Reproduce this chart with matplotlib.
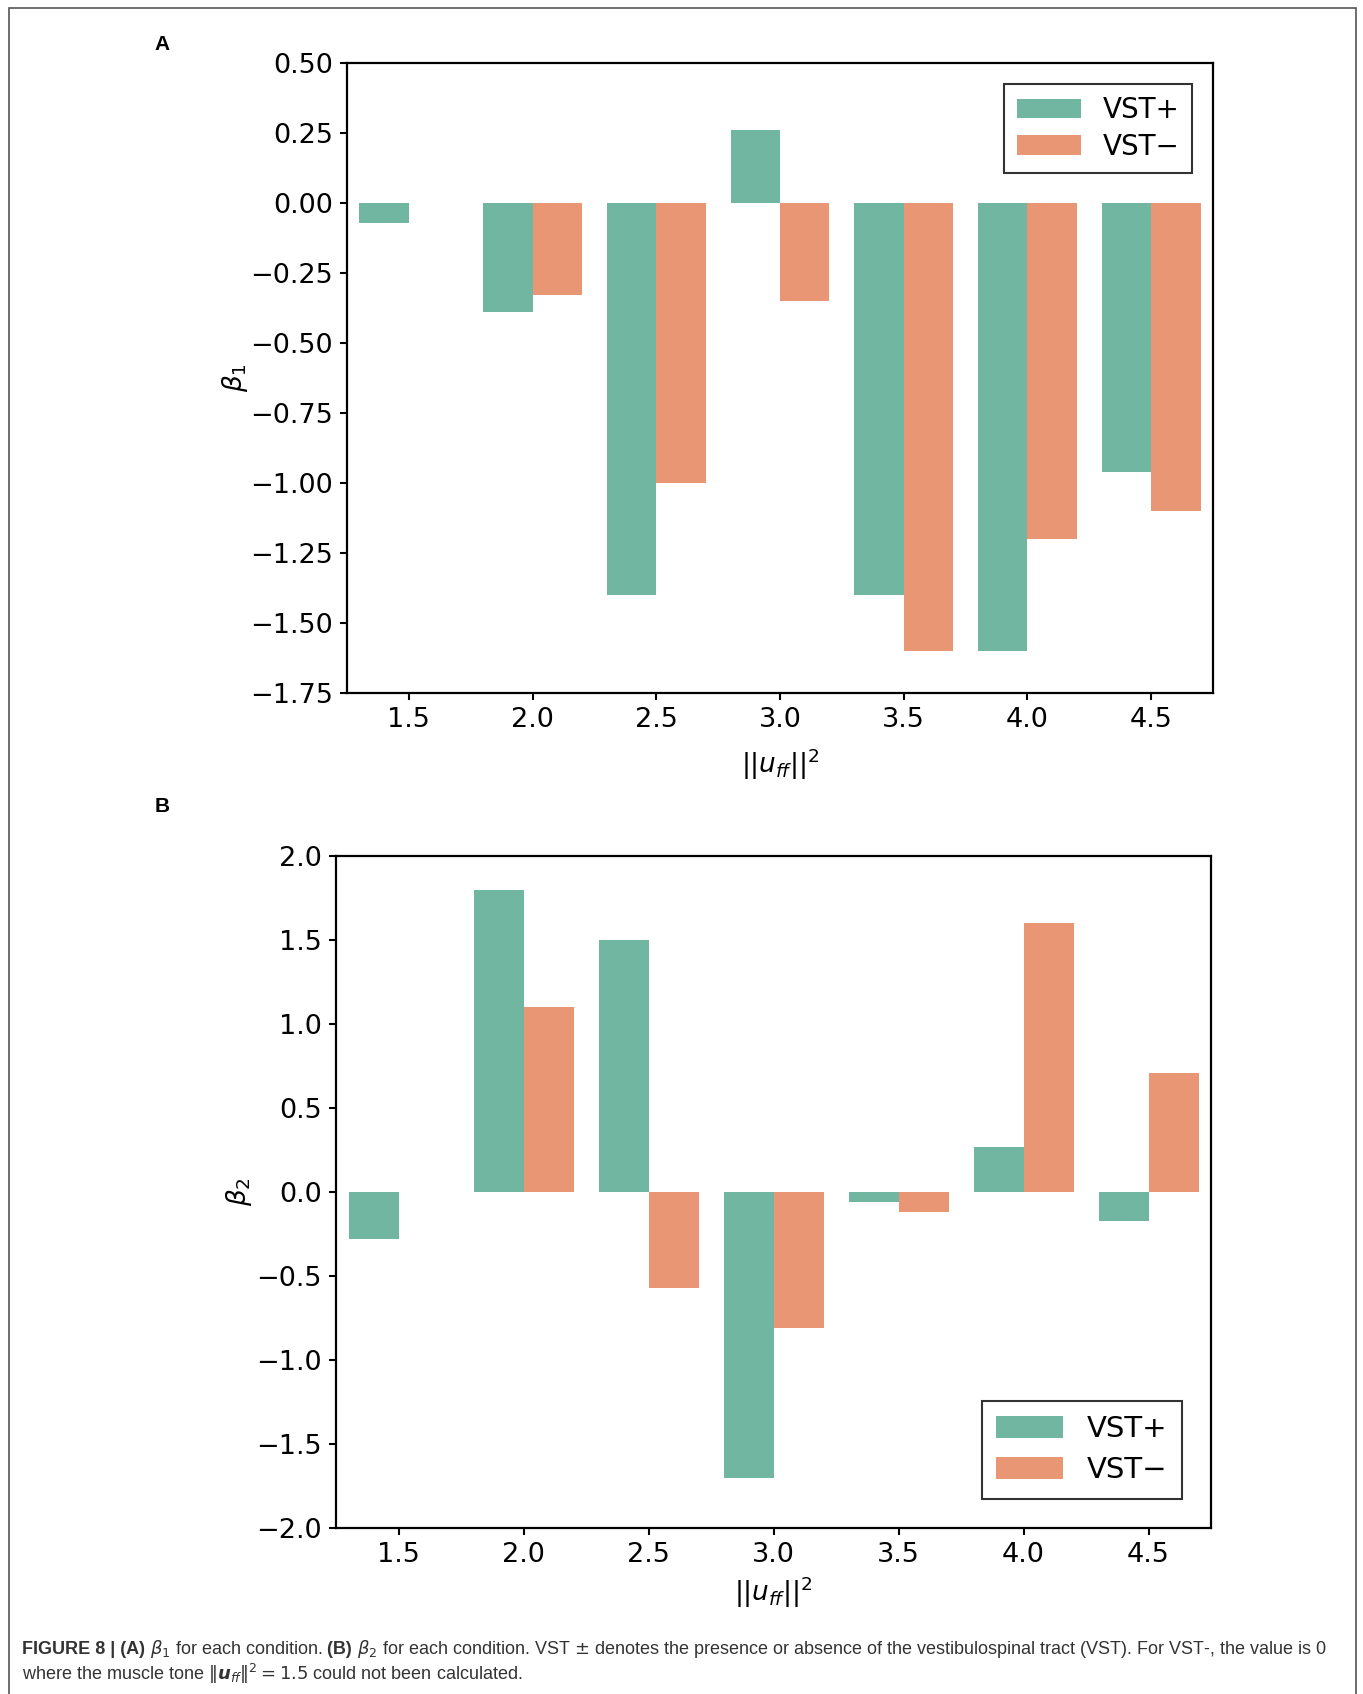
import matplotlib
matplotlib.use("Agg")
from matplotlib import pyplot as plt
import matplotlib.patches as mpatches
import numpy as np

# condition values (||u_ff||^2) and the two coefficients per VST condition
conditions = [1.5, 2.0, 2.5, 3.0, 3.5, 4.0, 4.5]
beta1_vst_plus = [-0.07, -0.39, -1.40, 0.26, -1.40, -1.60, -0.96]
beta1_vst_minus = [0.0, -0.33, -1.00, -0.35, -1.60, -1.20, -1.10]
beta2_vst_plus = [-0.28, 1.80, 1.50, -1.70, -0.06, 0.27, -0.17]
beta2_vst_minus = [0.0, 1.10, -0.57, -0.81, -0.12, 1.60, 0.71]
series_labels = ["VST+", "VST\u2212"]

teal = "#71b6a0"
salmon = "#e99675"

plt.rcParams["font.family"] = "DejaVu Sans"
plt.rcParams["mathtext.fontset"] = "dejavusans"

W, H = 1363, 1694
fig = plt.figure(figsize=(W / 100, H / 100), dpi=100)


def px_axes(left, top, right, bottom):
    return fig.add_axes([left / W, 1 - bottom / H, (right - left) / W, (bottom - top) / H])


def draw_panel(ax, plus, minus, ylabel, yticks, fmt, ylim, ypad, xpad):
    x = np.array(conditions)
    ax.bar(x - 0.1, plus, width=0.2, color=teal, label=series_labels[0])
    ax.bar(x + 0.1, minus, width=0.2, color=salmon, label=series_labels[1])
    ax.set_xlim(1.25, 4.75)
    ax.set_ylim(*ylim)
    ax.set_xticks(conditions)
    ax.set_xticklabels([f"{c:.1f}" for c in conditions])
    ax.set_yticks(yticks)
    ax.set_yticklabels([fmt.format(t).replace("-", "\u2212") for t in yticks])
    ax.tick_params(labelsize=19.5, width=1.5, length=5, pad=5)
    for sp in ax.spines.values():
        sp.set_linewidth(1.6)
    ax.set_ylabel(ylabel, fontsize=19, labelpad=ypad)
    ax.set_xlabel(r"$||u_{ff}||^2$", fontsize=19, labelpad=xpad)


ax1 = px_axes(347, 63, 1213, 693)
draw_panel(ax1, beta1_vst_plus, beta1_vst_minus, r"$\beta_1$",
           np.arange(-1.75, 0.51, 0.25), "{:.2f}", (-1.75, 0.5), 0, 10)
leg = ax1.legend(loc="upper right", fontsize=20, frameon=True, fancybox=False,
                 edgecolor="black", handlelength=2.3, handleheight=0.7,
                 borderpad=0.45, labelspacing=0.3, borderaxespad=0.75)
leg.get_frame().set_linewidth(1.5)

ax2 = px_axes(336, 856, 1211, 1528)
draw_panel(ax2, beta2_vst_plus, beta2_vst_minus, r"$\beta_2$",
           np.arange(-2.0, 2.01, 0.5), "{:.1f}", (-2.0, 2.0), 2, 5)
leg = ax2.legend(loc="lower right", fontsize=21, frameon=True, fancybox=False,
                 edgecolor="black", handlelength=2.3, handleheight=0.8,
                 borderpad=0.5, labelspacing=0.45, borderaxespad=1.0)
leg.get_frame().set_linewidth(1.5)

# panel letters
fig.text(162 / W, 1 - 44 / H, "A", fontsize=15, fontweight="bold",
         family="Liberation Sans", ha="center", va="center")
fig.text(162 / W, 1 - 806 / H, "B", fontsize=15, fontweight="bold",
         family="Liberation Sans", ha="center", va="center")

# outer frame
fig.patches.append(mpatches.Rectangle((9 / W, -0.01), (1356 - 9) / W, 1.01 - 8 / H,
                                      transform=fig.transFigure, fill=False,
                                      edgecolor="#555555", linewidth=1.2))

# caption, built from pieces so bold parts can be mixed in
cap_font = ["Liberation Sans Narrow", "Liberation Sans"]
cap_color = "#333333"
cap_size = 13
renderer = fig.canvas.get_renderer()


def caption_line(pieces, x_px, y_px):
    x = x_px
    for txt, bold, gap in pieces:
        t = fig.text((x + gap) / W, 1 - y_px / H, txt, fontsize=cap_size, family=cap_font,
                     fontweight="bold" if bold else "normal", color=cap_color,
                     ha="left", va="baseline")
        bb = t.get_window_extent(renderer)
        x = bb.x1


caption_line([("FIGURE 8 | (A) ", True, 0), (r"$\beta_1$ for each condition.", False, 0),
              ("(B) ", True, 5),
              (r"$\beta_2$ for each condition. VST $\pm$ denotes the presence or absence of the "
               r"vestibulospinal tract (VST). For VST-, the value is 0", False, 0)], 22, 1654)
caption_line([(r"where the muscle tone $\|\mathbfit{u}_{ff}\|^2 = 1.5$ could not been calculated.", False, 0)],
             22, 1680)

fig.savefig("out.png", dpi=100)
